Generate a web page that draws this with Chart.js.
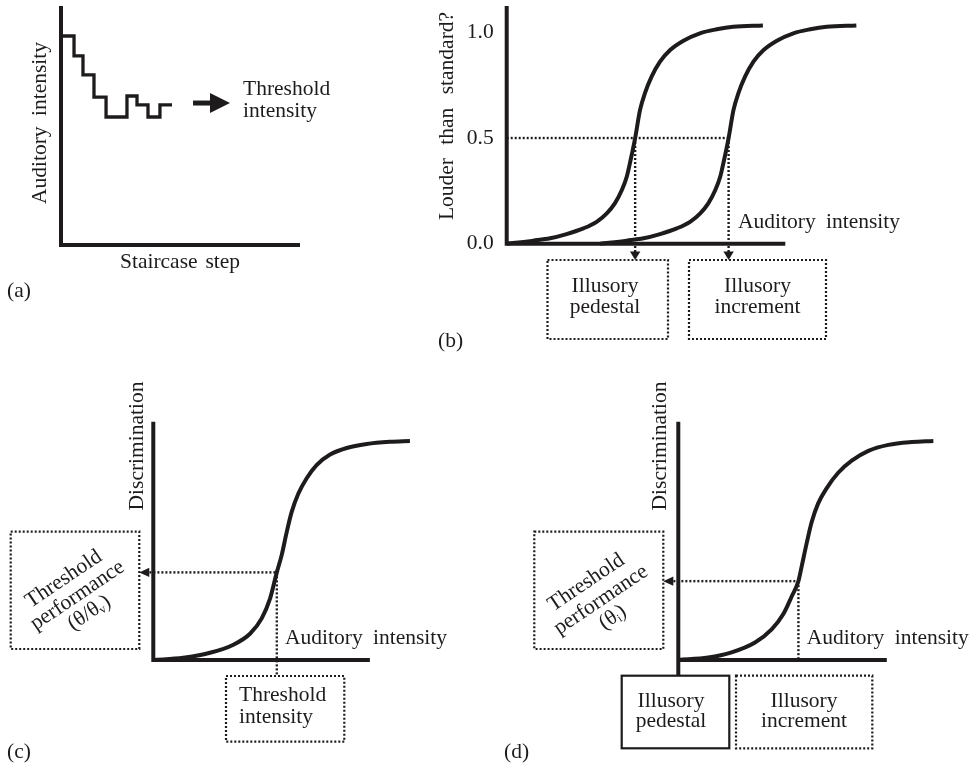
<!DOCTYPE html>
<html><head><meta charset="utf-8">
<script src="https://cdn.jsdelivr.net/npm/chart.js@4.4.0/dist/chart.umd.min.js"></script>
<style>
html,body{margin:0;padding:0;background:#fff;}
#wrap{position:relative;width:979px;height:766px;overflow:hidden;background:#fff;}
canvas{position:absolute;left:0;top:0;}
</style></head><body><div id="wrap">
<canvas id="ca" width="979" height="766"></canvas>
<canvas id="cb" width="979" height="766"></canvas>
<canvas id="cc" width="979" height="766"></canvas>
<canvas id="cd" width="979" height="766"></canvas>
</div>
<script>
// ---------- DATA ----------
// (a) staircase
const stairX = [0, 1.09, 1.84, 2.76, 3.77, 5.52, 6.36, 7.28, 8.28, 9.29];
const stairY = [17.49, 15.82, 14.23, 12.38, 10.71, 12.47, 11.72, 10.71, 11.72, 11.72];
const axisAX = [0, 0, 20];
const axisAY = [20, 0, 0];
const arrowAX = [11.05, 12.6];
const arrowAY = [11.88, 11.88];

// (b) two psychometric curves
const curveB1X = [0, 7.6, 12.4, 17.1, 21.9, 25.7, 28.6, 30.9, 32.9, 34.3, 35.4, 36.7, 38.1, 39.5, 41.4, 43.8, 46.7, 50.5, 55.2, 60.0, 64.7, 73.2];
const curveB2X = [26.7, 34.3, 39.1, 43.8, 48.6, 52.4, 55.3, 57.6, 59.6, 61.0, 62.1, 63.4, 64.8, 66.2, 68.1, 70.5, 73.4, 77.2, 81.9, 86.7, 91.4, 99.9];
const curveBY  = [0, 0.015, 0.026, 0.046, 0.073, 0.104, 0.144, 0.191, 0.254, 0.317, 0.396, 0.5, 0.633, 0.712, 0.790, 0.861, 0.916, 0.960, 0.995, 1.014, 1.026, 1.032];
const yTicksB = [0, 0.5, 1.0];
const yTickLabelsB = ['0.0', '0.5', '1.0'];
const axisBX = [0, 0, 79.6];
const axisBY = [1.124, 0, 0];
const pedestalB = 36.7, incrementB = 63.4, levelB = 0.5;

// (c) discrimination curve
const curveCX = [0, 11.5, 21.8, 30.8, 37.2, 41.7, 44.9, 47.5, 49.4, 51.2, 53.2, 55.8, 59.0, 62.8, 68.0, 74.4, 82.1, 91.0, 98.7];
const curveCY = [0, 0.01, 0.033, 0.07, 0.12, 0.19, 0.28, 0.40, 0.48, 0.578, 0.675, 0.76, 0.83, 0.89, 0.938, 0.968, 0.986, 0.996, 1.0];
const axisCX = [0, 0, 83.3];
const axisCY = [1.088, 0, 0];
const threshCX = 47.5, threshCY = 0.40;

// (d) discrimination curve
const curveDX = [0, 11.5, 20.5, 29.5, 35.9, 40.4, 43.6, 46.2, 47.5, 49.4, 51.3, 53.8, 57.1, 61.5, 66.7, 73.1, 80.8, 89.8, 98.1];
const curveDY = [0, 0.011, 0.035, 0.08, 0.14, 0.21, 0.29, 0.36, 0.43, 0.535, 0.63, 0.715, 0.785, 0.855, 0.91, 0.955, 0.982, 0.995, 1.0];
const axisDYx = [0, 0], axisDYy = [1.088, -0.072];
const axisDXx = [0, 80.2], axisDXy = [0, 0];
const threshDX = 46.2, threshDY = 0.36;

// ---------- STYLE ----------
const W = 979, H = 766;
const INK = '#1e1b1c';
const FAMILY = '"Liberation Serif", "Times New Roman", serif';
const FS = 21.5;
const fontStr = s => s + 'px ' + FAMILY;

function line(xs, ys, o) {
  return Object.assign({
    type: 'line', data: xs.map((x, i) => ({x: x, y: ys[i]})),
    borderColor: INK, borderWidth: 4, pointRadius: 0, fill: false, tension: 0,
    clip: false, borderCapStyle: 'butt', borderJoinStyle: 'miter'
  }, o || {});
}
const curve = (xs, ys) => line(xs, ys, {borderWidth: 4, cubicInterpolationMode: 'monotone', borderJoinStyle: 'round'});
const dotted = (xs, ys) => line(xs, ys, {borderWidth: 2.4, borderDash: [2, 2]});

function drawRich(ctx, segs, x, y, align, ws) {
  if ('wordSpacing' in ctx) ctx.wordSpacing = (ws || 0) + 'px';
  ctx.textAlign = 'left';
  let w = 0;
  const ms = segs.map(sg => { ctx.font = fontStr(sg.sub ? 12 : FS); const m = ctx.measureText(sg.s).width; w += m; return m; });
  let cx = align === 'center' ? x - w / 2 : (align === 'right' ? x - w : x);
  segs.forEach((sg, i) => { ctx.font = fontStr(sg.sub ? 12 : FS); ctx.fillText(sg.s, cx, y + (sg.sub ? 5 : 0)); cx += ms[i]; });
}

function annotPlugin(spec) {
  return {
    id: 'annot',
    afterDatasetsDraw(chart) {
      const ctx = chart.ctx, xs = chart.scales.x, ys = chart.scales.y;
      ctx.save();
      ctx.fillStyle = INK; ctx.strokeStyle = INK;
      (spec.heads || []).forEach(h => {
        const tx = xs.getPixelForValue(h.x), ty = ys.getPixelForValue(h.y);
        const L = h.len, hw = h.hw;
        ctx.beginPath();
        if (h.dir === 'right') { ctx.moveTo(tx, ty); ctx.lineTo(tx - L, ty - hw); ctx.lineTo(tx - L, ty + hw); }
        else if (h.dir === 'left') { ctx.moveTo(tx, ty); ctx.lineTo(tx + L, ty - hw); ctx.lineTo(tx + L, ty + hw); }
        else { ctx.moveTo(tx, ty); ctx.lineTo(tx - hw, ty - L); ctx.lineTo(tx + hw, ty - L); }
        ctx.closePath(); ctx.fill();
      });
      (spec.boxes || []).forEach(b => {
        ctx.lineWidth = 2.2;
        ctx.setLineDash(b.solid ? [] : [2, 2]);
        ctx.strokeRect(b.x1, b.y1, b.x2 - b.x1, b.y2 - b.y1);
      });
      ctx.setLineDash([]);
      (spec.texts || []).forEach(t => {
        ctx.save();
        ctx.textBaseline = t.mid ? 'middle' : 'alphabetic';
        ctx.translate(t.x, t.y);
        if (t.rot) ctx.rotate(t.rot * Math.PI / 180);
        drawRich(ctx, t.segs || [{s: t.s}], 0, 0, t.align || 'left', t.ws);
        ctx.restore();
      });
      (spec.blocks || []).forEach(bl => {
        const a = bl.rot * Math.PI / 180;
        const nx = -Math.sin(a), ny = Math.cos(a);
        bl.lines.forEach((ln, k) => {
          const off = (k - 1) * bl.lh;
          ctx.save();
          ctx.textBaseline = 'middle';
          ctx.translate(bl.cx + nx * off + (ln.dx || 0), bl.cy + ny * off + (ln.dy || 0));
          ctx.rotate(a);
          drawRich(ctx, ln.segs, 0, 0, 'center', 0);
          ctx.restore();
        });
      });
      ctx.restore();
    }
  };
}

function build(id, spec) {
  const a = spec.area;
  const yScale = spec.yScale || {type: 'linear', display: false};
  yScale.min = spec.y[0]; yScale.max = spec.y[1];
  return new Chart(document.getElementById(id), {
    type: 'line',
    data: {datasets: spec.datasets},
    options: {
      responsive: false, animation: false, events: [], devicePixelRatio: 1,
      layout: {padding: {left: a.l - (spec.yW || 0), top: a.t, right: W - a.r, bottom: H - a.b}},
      plugins: {legend: {display: false}, tooltip: {enabled: false}, title: {display: false}},
      scales: {
        x: {type: 'linear', display: false, min: spec.x[0], max: spec.x[1]},
        y: yScale
      }
    },
    plugins: [annotPlugin(spec)]
  });
}

// (a)
build('ca', {
  area: {l: 61, t: 6, r: 300, b: 245}, x: [0, 20], y: [0, 20],
  datasets: [
    line(axisAX, axisAY, {borderWidth: 4}),
    line(stairX, stairY, {borderWidth: 3.3, stepped: 'before'}),
    line(arrowAX, arrowAY, {borderWidth: 5})
  ],
  heads: [{x: 14.14, y: 11.88, dir: 'right', len: 20, hw: 10}],
  texts: [
    {s: 'Threshold', x: 243, y: 95},
    {s: 'intensity', x: 243, y: 117},
    {s: 'Staircase step', x: 180, y: 268, align: 'center', ws: 2.5},
    {s: 'Auditory intensity', x: 45.5, y: 123, rot: -90, align: 'center', ws: 5},
    {s: '(a)', x: 7, y: 297}
  ]
});

// (b)
build('cb', {
  area: {l: 506.7, t: 6, r: 856.7, b: 243.8}, x: [0, 100], y: [0, 1.124], yW: 60,
  yScale: {
    type: 'linear', display: true, position: 'left',
    grid: {display: false, drawTicks: false}, border: {display: false},
    afterBuildTicks: s => { s.ticks = yTicksB.map(v => ({value: v})); },
    afterFit: s => { s.width = 60; s.paddingTop = 0; s.paddingBottom = 0; },
    ticks: {color: INK, padding: 13, font: {family: FAMILY, size: FS}, callback: (v, i) => yTickLabelsB[i]}
  },
  datasets: [
    line(axisBX, axisBY, {borderWidth: 4}),
    curve(curveB1X, curveBY),
    curve(curveB2X, curveBY),
    dotted([0, incrementB], [levelB, levelB]),
    dotted([pedestalB, pedestalB], [levelB, -0.04]),
    dotted([incrementB, incrementB], [levelB, -0.04])
  ],
  heads: [
    {x: pedestalB, y: -0.0766, dir: 'down', len: 8.5, hw: 5.2},
    {x: incrementB, y: -0.0766, dir: 'down', len: 8.5, hw: 5.2}
  ],
  boxes: [
    {x1: 547.5, y1: 260, x2: 668, y2: 339},
    {x1: 689, y1: 260, x2: 826, y2: 339}
  ],
  texts: [
    {s: 'Louder than standard?', x: 453, y: 116, rot: -90, align: 'center', ws: 8},
    {s: 'Auditory intensity', x: 738, y: 228, ws: 5},
    {s: 'Illusory', x: 605, y: 292, align: 'center'},
    {s: 'pedestal', x: 605, y: 313, align: 'center'},
    {s: 'Illusory', x: 757.5, y: 292, align: 'center'},
    {s: 'increment', x: 757.5, y: 313, align: 'center'},
    {s: '(b)', x: 438, y: 347}
  ]
});

// (c)
build('cc', {
  area: {l: 153.3, t: 421.7, r: 413.3, b: 660}, x: [0, 100], y: [0, 1.088],
  datasets: [
    line(axisCX, axisCY, {borderWidth: 4}),
    curve(curveCX, curveCY),
    dotted([-1.5, threshCX], [threshCY, threshCY]),
    dotted([threshCX, threshCX], [threshCY, -0.073])
  ],
  heads: [{x: -5.4, y: threshCY, dir: 'left', len: 10, hw: 4.7}],
  boxes: [
    {x1: 10.7, y1: 531.7, x2: 139.3, y2: 649},
    {x1: 226, y1: 676, x2: 344.3, y2: 741.7}
  ],
  texts: [
    {s: 'Discrimination', x: 143, y: 446, rot: -90, align: 'center'},
    {s: 'Auditory intensity', x: 285, y: 644, ws: 5},
    {s: 'Threshold', x: 239, y: 701},
    {s: 'intensity', x: 239, y: 722.7},
    {s: '(c)', x: 7, y: 758}
  ],
  blocks: [{cx: 77.5, cy: 595.5, rot: -34, lh: 21, lines: [
    {segs: [{s: 'Threshold'}], dx: -2, dy: 1},
    {segs: [{s: 'performance'}]},
    {segs: [{s: '(θ/θ'}, {s: 'v', sub: true}, {s: ')'}]}
  ]}]
});

// (d)
build('cd', {
  area: {l: 678.3, t: 421.7, r: 938.3, b: 660}, x: [0, 100], y: [0, 1.088],
  datasets: [
    line(axisDYx, axisDYy, {borderWidth: 4}),
    line(axisDXx, axisDXy, {borderWidth: 4}),
    curve(curveDX, curveDY),
    dotted([-1.9, threshDX], [threshDY, threshDY]),
    dotted([threshDX, threshDX], [threshDY, 0])
  ],
  heads: [{x: -5.77, y: threshDY, dir: 'left', len: 10, hw: 4.7}],
  boxes: [
    {x1: 534.3, y1: 531.7, x2: 663.3, y2: 649},
    {x1: 621.7, y1: 675.7, x2: 729.3, y2: 748.3, solid: true},
    {x1: 736, y1: 675.7, x2: 872.3, y2: 748.3}
  ],
  texts: [
    {s: 'Discrimination', x: 666, y: 446, rot: -90, align: 'center'},
    {s: 'Auditory intensity', x: 806.7, y: 644, ws: 5},
    {s: 'Illusory', x: 671, y: 706.7, align: 'center'},
    {s: 'pedestal', x: 671, y: 726.7, align: 'center'},
    {s: 'Illusory', x: 804, y: 706.7, align: 'center'},
    {s: 'increment', x: 804, y: 726.7, align: 'center'},
    {s: '(d)', x: 504, y: 758}
  ],
  blocks: [{cx: 601, cy: 600, rot: -34, lh: 21, lines: [
    {segs: [{s: 'Threshold'}], dx: -3},
    {segs: [{s: 'performance'}]},
    {segs: [{s: '(θ'}, {s: 'i', sub: true}, {s: ')'}]}
  ]}]
});
</script>
</body></html>
